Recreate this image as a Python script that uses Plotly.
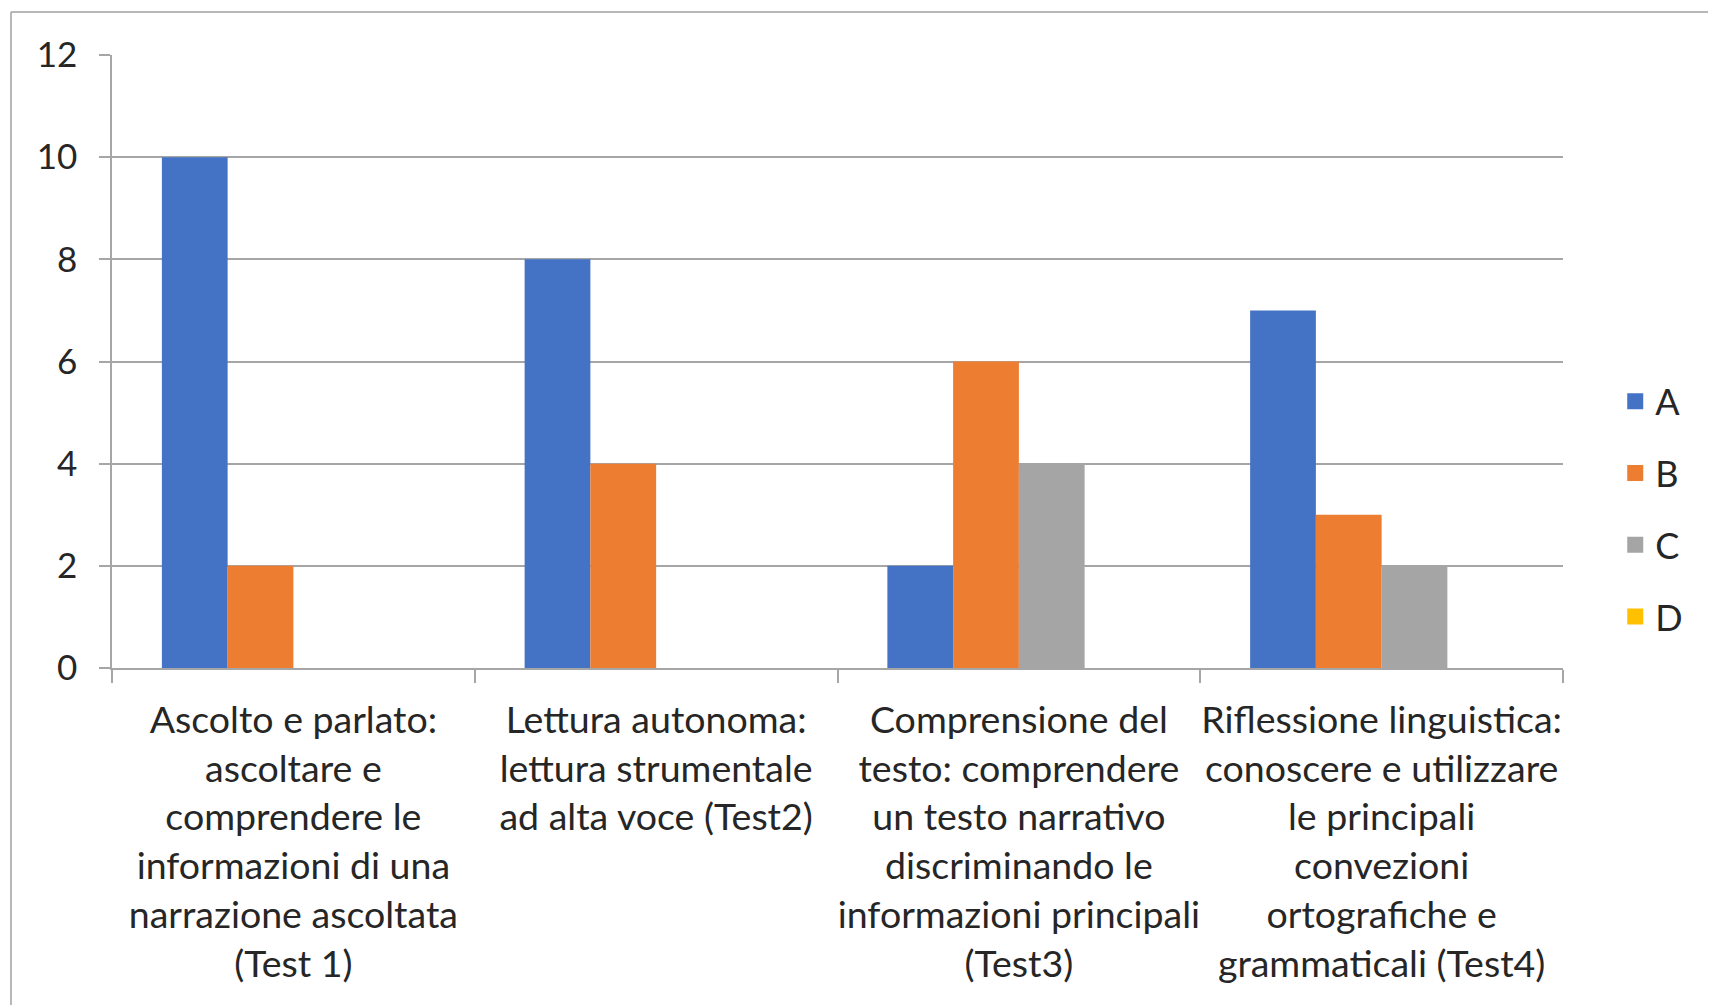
import plotly.graph_objects as go

categories = [
    "Ascolto e parlato:<br>ascoltare e<br>comprendere le<br>informazioni di una<br>narrazione ascoltata<br>(Test 1)",
    "Lettura autonoma:<br>lettura strumentale<br>ad alta voce (Test2)",
    "Comprensione del<br>testo: comprendere<br>un testo narrativo<br>discriminando le<br>informazioni principali<br>(Test3)",
    "Riflessione linguistica:<br>conoscere e utilizzare<br>le principali<br>convezioni<br>ortografiche e<br>grammaticali (Test4)",
]
series_names = ["A", "B", "C", "D"]
values_A = [10, 8, 2, 7]
values_B = [2, 4, 6, 3]
values_C = [0, 0, 4, 2]
values_D = [0, 0, 0, 0]
y_ticks = [0, 2, 4, 6, 8, 10, 12]

colors = ["#4472C4", "#ED7D31", "#A5A5A5", "#FFC000"]
FONT = "Lato, Carlito, Calibri, sans-serif"
GRID = "#A6A6A6"

W, H = 1716, 1005
ml, mr, mt, mb = 104, 161, 47, 345
pw, ph = W - ml - mr, H - mt - mb

fig = go.Figure()
for name, vals, col in zip(series_names, [values_A, values_B, values_C, values_D], colors):
    fig.add_trace(go.Bar(x=categories, y=vals, name=name, marker=dict(color=col, line=dict(width=0)),
                         showlegend=False))
    fig.add_trace(go.Scatter(x=[None], y=[None], mode="markers", name=name, legendgroup=name,
                             marker=dict(symbol="square", size=21, color=col), showlegend=True))

# outer border (left and top visible); page body adds 8px offset
def px_x(p):
    return (p - 8 - ml) / pw

def px_y(p):
    return (H - mb - (p - 8)) / ph

fig.add_shape(type="line", xref="paper", yref="paper", x0=px_x(11), x1=px_x(1740), y0=px_y(12), y1=px_y(12),
              line=dict(color="#A0A0A0", width=1.5), layer="above")
fig.add_shape(type="line", xref="paper", yref="paper", x0=px_x(11), x1=px_x(11), y0=px_y(12), y1=px_y(1040),
              line=dict(color="#A0A0A0", width=1.5), layer="above")

fig.update_layout(
    width=W, height=H,
    margin=dict(l=ml, r=mr, t=mt, b=mb, autoexpand=False),
    paper_bgcolor="white", plot_bgcolor="white",
    barmode="group", bargap=0.275, bargroupgap=0,
    font=dict(family=FONT, size=36, color="#262626"),
    legend=dict(x=1.036, y=0.259, xanchor="left", yanchor="middle", tracegroupgap=22,
                font=dict(size=36, color="#262626"), itemwidth=30),
    xaxis=dict(
        showgrid=False, showline=True, linecolor=GRID, linewidth=1.5,
        ticks="outside", tickson="boundaries", ticklen=13, tickcolor=GRID, tickwidth=1.5,
        tickfont=dict(size=37.5, color="#262626"), tickangle=0, ticklabelstandoff=18,
    ),
    yaxis=dict(
        range=[0, 12], tickvals=y_ticks, showgrid=True, gridcolor=GRID, gridwidth=1.5,
        showline=True, linecolor=GRID, linewidth=1.5, zeroline=False,
        ticks="outside", ticklen=11, tickcolor=GRID, tickwidth=1.5,
        tickfont=dict(size=35, color="#262626"), ticklabelstandoff=15,
    ),
)

fig.write_html("out.html")
